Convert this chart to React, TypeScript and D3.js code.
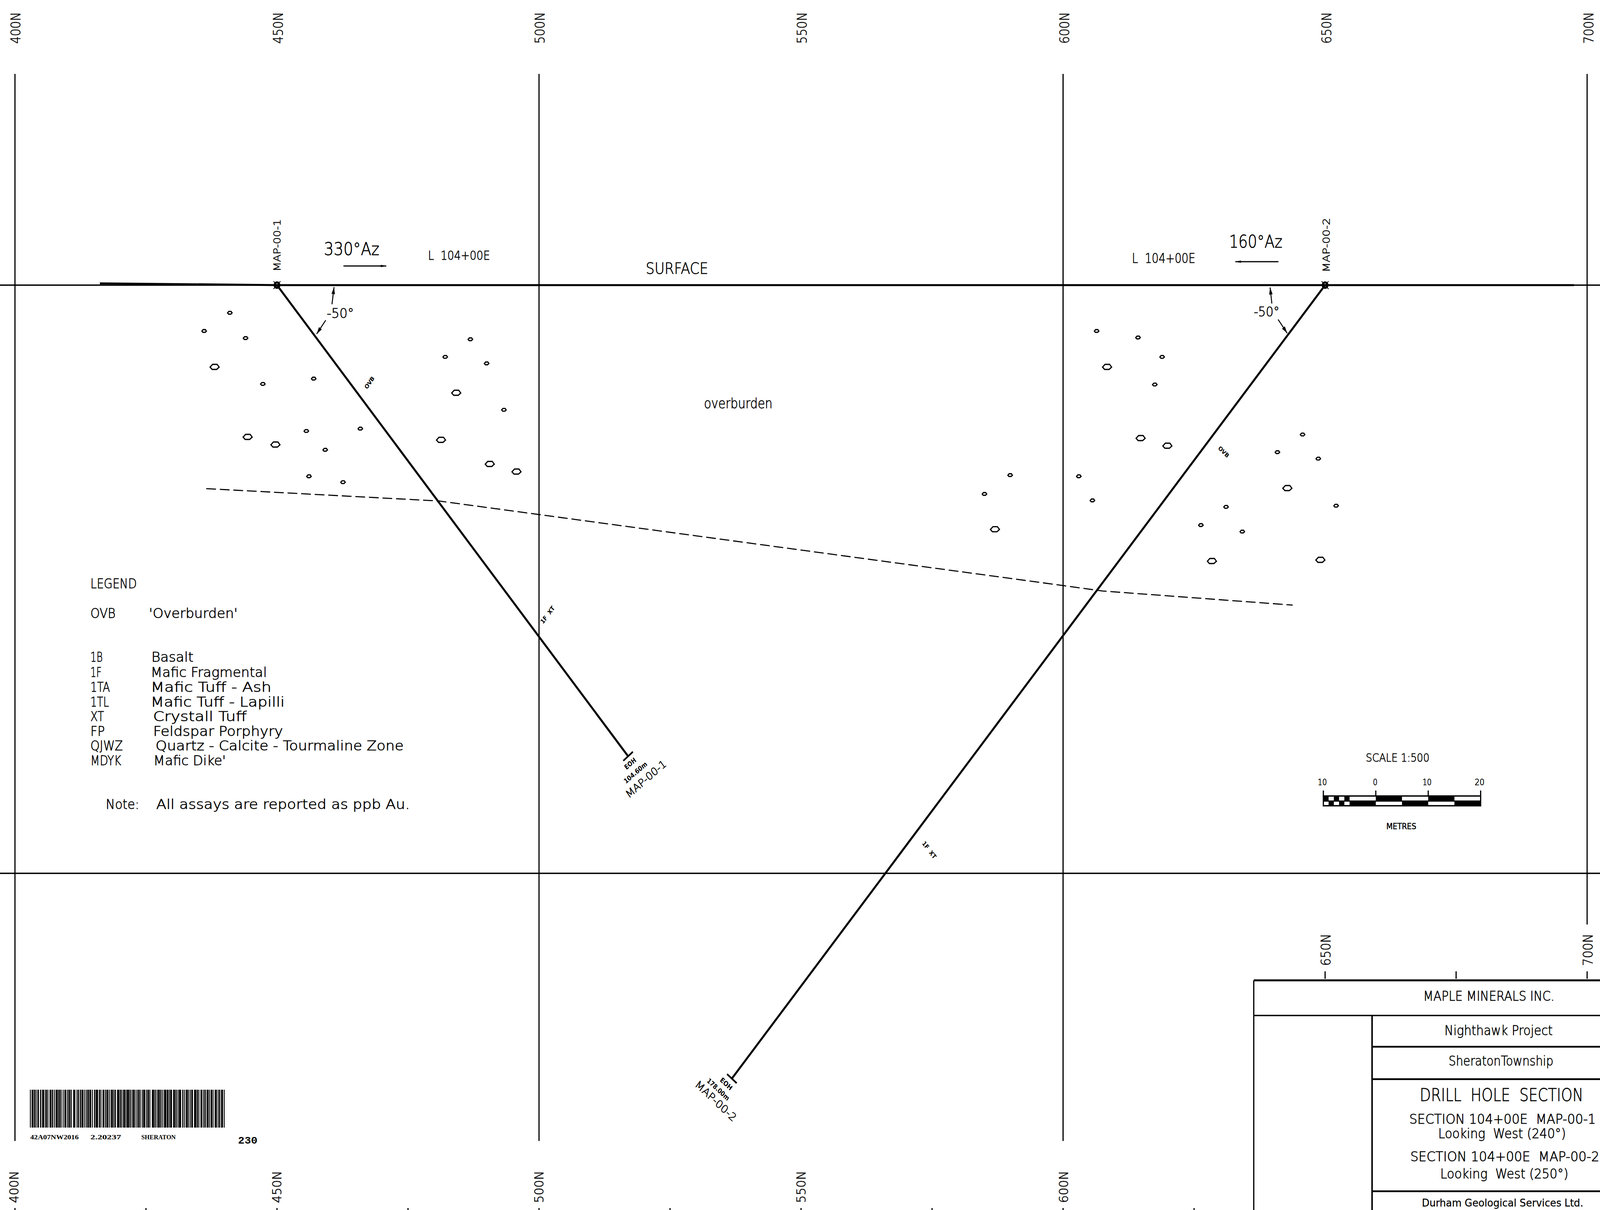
import React from "react";
import * as d3 from "d3";

// ---------- data (metres: northing, depth below surface) ----------
const northTicks = [400, 450, 500, 550, 600, 650, 700];
const gridNorths = [400, 500, 600, 700];
const gridDepths = [0, 100];
const bottomTicks = [400, 425, 450, 475, 500, 525, 550, 575, 600, 625];
const hole1Path: [number, number][] = [[450, 0], [517.0, 80.1]];
const hole2Path: [number, number][] = [[650, 0], [536.8, 134.9]];
const surfaceProfile: [number, number][] = [[416.2, -0.3], [440, -0.1], [450, 0], [697.5, 0]];
const contactLine: [number, number][] = [[436.5, 34.6], [480.9, 36.7], [600.2, 51.1], [607.5, 52.0], [643.8, 54.4]];
const clastsSmall: [number, number][] = [
  [441.0, 4.7], [436.1, 7.8], [444.0, 9.0], [447.3, 16.8], [457.0, 15.9], [486.9, 9.2], [482.1, 12.2], [490.0, 13.3],
  [493.3, 21.2], [455.6, 24.8], [465.9, 24.4], [459.2, 28.0], [456.1, 32.5], [462.6, 33.5],
  [606.4, 7.8], [614.3, 8.9], [618.9, 12.2], [617.5, 16.9], [645.7, 25.4], [640.9, 28.4], [648.7, 29.5], [652.1, 37.5],
  [631.1, 37.7], [626.3, 40.8], [634.2, 41.9], [605.6, 36.6], [603.0, 32.5], [589.9, 32.3], [585.0, 35.5],
];
const clastsLarge: [number, number][] = [
  [438.1, 13.9], [484.2, 18.3], [444.4, 25.8], [449.7, 27.1], [481.3, 26.3], [490.6, 30.4], [495.7, 31.7],
  [608.4, 13.9], [614.8, 26.0], [619.9, 27.3], [642.8, 34.5], [628.4, 46.9], [649.1, 46.7], [587.0, 41.5],
];
const legendCodes = ["1B", "1F", "1TA", "1TL", "XT", "FP", "QJWZ", "MDYK"];
const legendNames = ["Basalt", "Mafic Fragmental", "Mafic Tuff - Ash", "Mafic Tuff - Lapilli", "Crystall Tuff", "Feldspar Porphyry", "Quartz - Calcite - Tourmaline Zone", "Mafic Dike'"];
const scaleLabels = ["10", "0", "10", "20"];
const scaleTickValues = [-10, 0, 10, 20];
const scaleUpperBlack: [number, number][] = [[-10, -9], [-8, -7], [-6, -5], [0, 5], [10, 15]];
const scaleLowerBlack: [number, number][] = [[-9, -8], [-7, -6], [-5, 0], [5, 10], [15, 20]];
const barcodeWidths = [
  2,3,5,2,3,2,2,3,4,4,3,3,6,3,2,1,2,2,2,4,5,2,3,3,2,3,6,2,4,2,3,4,2,3,5,3,2,2,4,2,3,5,6,4,2,2,3,3,3,2,5,3,2,3,2,2,4,2,5,3,2,4,3,2,6,3,3,2,2,4,5,3,3,2,4,3,2,3,5,2,2,2,3,4,6,2,3,2,2,3,5,2,2,2,
  6,2,3,3,2,2,5,3,2,3,4,2,3,4,2,2,6,3,2,2,4,2,2,5,6,2,3,3,2,2,5,2,3,3,2,3,6,2,4,2,2,2,5,4,5,2,3,3,2,2,6,4,3,3,2,3,5,2,2,3,2,2,4,4,6,2,3,2,2,4,5,3,2,2,3,3,5,2,2,3,4,2,2,4,6,3,2,2,3,3,5,3,2,2,
];

// ---------- scales and layout ----------
const W = 4598, H = 3098;
const xN = d3.scaleLinear().domain([400, 700]).range([43, 4561]);
const yD = d3.scaleLinear().domain([0, 100]).range([730, 2236]);
const toLine = d3.line<[number, number]>().x(d => xN(d[0])).y(d => yD(d[1]));
const xScaleBar = d3.scaleLinear().domain([-10, 20]).range([3803, 4255]);
const INK = "#000";
const FONT = "'DejaVu Sans', 'Liberation Sans', sans-serif";

type TP = { x: number; y: number; w: number; cap: number; r?: number; a?: "start" | "middle"; f?: string; sw?: number; weight?: number; children: React.ReactNode };
function T({ x, y, w, cap, r = 0, a = "start", f = FONT, sw = 0.9, weight = 200, children }: TP) {
  return (
    <text transform={`translate(${x},${y}) rotate(${r})`} textAnchor={a} fontFamily={f} fontSize={cap / 0.73} fontWeight={weight}
      textLength={w} lengthAdjust="spacingAndGlyphs" fill={INK} stroke={sw ? INK : "none"} strokeWidth={sw} xmlSpace="preserve">{children}</text>
  );
}
function Arrow({ x1, y1, x2, y2, head = 18, width = 5, sw = 2.8 }: { x1: number; y1: number; x2: number; y2: number; head?: number; width?: number; sw?: number }) {
  const a = Math.atan2(y2 - y1, x2 - x1);
  const bx = x2 - head * Math.cos(a), by = y2 - head * Math.sin(a);
  const nx = -Math.sin(a) * width, ny = Math.cos(a) * width;
  return (
    <g>
      <line x1={x1} y1={y1} x2={x2} y2={y2} stroke={INK} strokeWidth={sw} />
      <path d={`M${x2},${y2}L${bx + nx},${by + ny}L${bx - nx},${by - ny}Z`} fill={INK} />
    </g>
  );
}
const clastShape = (rx: number, ry: number): [number, number][] => [[-rx, 0.1 * ry], [-0.45 * rx, -ry], [0.55 * rx, -ry], [rx, 0.1 * ry], [0.45 * rx, ry], [-0.55 * rx, ry]];
const clastLine = d3.line().curve(d3.curveLinearClosed);
function Clast({ p, rx, ry }: { p: [number, number]; rx: number; ry: number }) {
  return <path transform={`translate(${xN(p[0])},${yD(p[1])})`} d={clastLine(clastShape(rx, ry)) || ""} fill="#fff" stroke={INK} strokeWidth={3.2} />;
}
function HoleCap({ p, sign }: { p: [number, number]; sign: number }) {
  const cx = xN(p[0]), cy = yD(p[1]);
  const ux = Math.sin((50 * Math.PI) / 180) * 18, uy = Math.cos((50 * Math.PI) / 180) * 18;
  return <line x1={cx - ux} y1={cy - sign * -uy} x2={cx + ux} y2={cy + sign * -uy} stroke={INK} strokeWidth={4.5} />;
}
function Collar({ n }: { n: number }) {
  const cx = xN(n), cy = yD(0);
  return (
    <g stroke={INK}>
      <circle cx={cx} cy={cy} r={7} fill="none" strokeWidth={5.5} />
      <line x1={cx - 10} x2={cx + 10} y1={cy - 10} y2={cy + 10} strokeWidth={2} />
      <line x1={cx - 10} x2={cx + 10} y1={cy + 10} y2={cy - 10} strokeWidth={2} />
    </g>
  );
}

const topCenters = [44, 799, 1551, 2304, 3058, 3812, 4565];
const bottomCenters = [40, 795, 1548, 2302, 3056];
const legendBase = [1694, 1733, 1771, 1809, 1846, 1884, 1921, 1959];
const codeW = [35, 32, 56, 53, 39, 41, 93, 88];
const nameX = [435, 433, 433, 433, 440, 440, 447, 441];
const nameW = [121, 334, 347, 385, 269, 373, 713, 208];
const scaleLabelCX = [3800, 3952, 4101, 4252];
const scaleLabelW = [26, 13, 26, 28];
const GRID = 3.4;

// barcode built from cumulative widths
const barcodeCum = d3.cumsum(barcodeWidths);
const xBar = d3.scaleLinear().domain([0, barcodeCum[barcodeCum.length - 1]]).range([86, 647]);

export default function App() {
  return (
    <svg viewBox={`0 0 ${W} ${H}`} preserveAspectRatio="none" style={{ position: "fixed", left: 0, top: 0, width: "100vw", height: "100vh", display: "block", background: "#fff" }}>
      <rect width={W} height={H} fill="#fff" />
      {/* grid */}
      {gridNorths.map(n => (
        <line key={n} x1={xN(n)} x2={xN(n)} y1={yD(-35.9)} y2={n === 700 ? yD(108.7) : yD(145.5)} stroke={INK} strokeWidth={GRID} />
      ))}
      {gridDepths.map(d => <line key={d} x1={0} x2={W} y1={yD(d)} y2={yD(d)} stroke={INK} strokeWidth={GRID} />)}
      {/* surface */}
      <path d={toLine(surfaceProfile) || ""} fill="none" stroke={INK} strokeWidth={5} />
      {/* contact */}
      <path d={toLine(contactLine) || ""} fill="none" stroke={INK} strokeWidth={2.8} strokeDasharray="28 11" />
      {/* clasts */}
      {clastsSmall.map((p, i) => <Clast key={"s" + i} p={p} rx={6.5} ry={3.5} />)}
      {clastsLarge.map((p, i) => <Clast key={"l" + i} p={p} rx={13} ry={6.5} />)}
      {/* holes */}
      <path d={toLine(hole1Path) || ""} fill="none" stroke={INK} strokeWidth={5.5} />
      <path d={toLine(hole2Path) || ""} fill="none" stroke={INK} strokeWidth={5.5} />
      <HoleCap p={hole1Path[1]} sign={1} />
      <HoleCap p={hole2Path[1]} sign={-1} />
      <Collar n={450} />
      <Collar n={650} />

      {/* north labels */}
      {northTicks.map((n, i) => <T key={"t" + n} x={topCenters[i] + 14} y={112} r={-90} w={81} cap={28}>{n + "N"}</T>)}
      {northTicks.slice(0, 5).map((n, i) => <T key={"b" + n} x={bottomCenters[i] + 13} y={3080} r={-90} w={82} cap={26}>{n + "N"}</T>)}
      <T x={3823} y={2473} r={-90} w={82} cap={27}>650N</T>
      <T x={4577} y={2473} r={-90} w={82} cap={27}>700N</T>
      {bottomTicks.map(n => <line key={"bt" + n} x1={xN(n)} x2={xN(n)} y1={3093} y2={H} stroke={INK} strokeWidth={GRID} />)}
      {[650, 675, 700].map(n => <line key={"tt" + n} x1={xN(n)} x2={xN(n)} y1={2487} y2={2506} stroke={INK} strokeWidth={GRID} />)}

      {/* hole 1 annotation */}
      <T x={806} y={695} r={-90} w={134} cap={20}>MAP-00-1</T>
      <T x={931} y={653} w={159} cap={32}>330°Az</T>
      <Arrow x1={987} y1={681} x2={1110} y2={681} head={16} width={3} />
      <T x={1230} y={665} w={178} cap={23}>L  104+00E</T>
      <T x={1856} y={701} w={179} cap={29}>SURFACE</T>
      <T x={939} y={814} w={78} cap={25}>-50°</T>
      <Arrow x1={954} y1={779} x2={960} y2={735} />
      <Arrow x1={936} y1={820} x2={910} y2={855} />
      <T x={1066} y={983} r={-52} a="middle" w={36} cap={11} weight={700} sw={0}>OVB</T>
      <T x={2023} y={1045} w={197} cap={26}>overburden</T>
      <T x={1578} y={1578} r={-50} a="middle" w={53} cap={12} weight={700} sw={0}>1F  XT</T>
      <T x={1815} y={1960} r={-38} a="middle" w={37} cap={13} weight={700} sw={0}>EOH</T>
      <T x={1830} y={1983} r={-38} a="middle" w={79} cap={13} weight={700} sw={0}>104.60m</T>
      <T x={1862} y={2002} r={-38} a="middle" w={139} cap={20}>MAP-00-1</T>

      {/* hole 2 annotation */}
      <T x={3253} y={673} w={182} cap={24}>L  104+00E</T>
      <T x={3532} y={634} w={153} cap={32}>160°Az</T>
      <Arrow x1={3674} y1={670} x2={3550} y2={670} head={16} width={3} />
      <T x={3821} y={697} r={-90} w={139} cap={20}>MAP-00-2</T>
      <T x={3603} y={810} w={74} cap={24}>-50°</T>
      <Arrow x1={3655} y1={777} x2={3650} y2={736} />
      <Arrow x1={3673} y1={818} x2={3699} y2={853} />
      <T x={3513} y={1161} r={42} a="middle" w={36} cap={11} weight={700} sw={0}>OVB</T>
      <T x={2666} y={2180} r={50} a="middle" w={53} cap={12} weight={700} sw={0}>1F  XT</T>
      <T x={2083} y={2780} r={40} a="middle" w={40} cap={13} weight={700} sw={0}>EOH</T>
      <T x={2060} y={2794} r={40} a="middle" w={78} cap={13} weight={700} sw={0}>178.00m</T>
      <T x={2051} y={2826} r={40} a="middle" w={145} cap={20}>MAP-00-2</T>

      {/* legend */}
      <T x={260} y={1506} w={133} cap={24}>LEGEND</T>
      <T x={260} y={1582} w={72} cap={24}>OVB</T>
      <T x={428} y={1582} w={255} cap={24}>'Overburden'</T>
      {legendCodes.map((c, i) => <T key={c} x={260} y={legendBase[i]} w={codeW[i]} cap={24}>{c}</T>)}
      {legendNames.map((c, i) => <T key={c} x={nameX[i]} y={legendBase[i]} w={nameW[i]} cap={24}>{c}</T>)}
      <T x={304} y={2071} w={96} cap={24}>Note:</T>
      <T x={449} y={2071} w={729} cap={24}>All assays are reported as ppb Au.</T>

      {/* scale */}
      <T x={3925} y={1950} w={183} cap={21}>SCALE 1:500</T>
      {scaleLabels.map((s, i) => <T key={i} x={scaleLabelCX[i]} y={2010} a="middle" w={scaleLabelW[i]} cap={16}>{s}</T>)}
      {scaleTickValues.map(v => <line key={v} x1={xScaleBar(v)} x2={xScaleBar(v)} y1={2024} y2={2040} stroke={INK} strokeWidth={GRID} />)}
      <rect x={xScaleBar(-10)} y={2038} width={xScaleBar(20) - xScaleBar(-10)} height={25} fill="#fff" stroke={INK} strokeWidth={3.5} />
      <line x1={xScaleBar(-10)} x2={xScaleBar(20)} y1={2051} y2={2051} stroke={INK} strokeWidth={3} />
      {scaleUpperBlack.map((s, i) => <rect key={"u" + i} x={xScaleBar(s[0])} y={2038} width={xScaleBar(s[1]) - xScaleBar(s[0])} height={13} fill={INK} />)}
      {scaleLowerBlack.map((s, i) => <rect key={"lo" + i} x={xScaleBar(s[0])} y={2051} width={xScaleBar(s[1]) - xScaleBar(s[0])} height={12} fill={INK} />)}
      <T x={3984} y={2123} w={86} cap={15} weight={400} sw={0.6}>METRES</T>

      {/* barcode */}
      {barcodeWidths.map((w, i) => i % 2 === 0 ? (
        <rect key={i} x={xBar(i === 0 ? 0 : barcodeCum[i - 1])} y={2790} width={xBar(barcodeCum[i]) - xBar(i === 0 ? 0 : barcodeCum[i - 1]) + 0.6} height={97} fill={INK} />
      ) : null)}
      <T x={87} y={2917} w={139} cap={12} f="'Liberation Serif', serif" weight={700} sw={0}>42A07NW2016</T>
      <T x={260} y={2917} w={88} cap={12} f="'Liberation Serif', serif" weight={700} sw={0}>2.20237</T>
      <T x={406} y={2917} w={99} cap={12} f="'Liberation Serif', serif" weight={700} sw={0}>SHERATON</T>
      <T x={684} y={2928} w={56} cap={19} f="'Liberation Mono', monospace" weight={700} sw={0}>230</T>

      {/* title block */}
      <line x1={3603} x2={W} y1={2510} y2={2510} stroke={INK} strokeWidth={5} />
      <line x1={3603} x2={3603} y1={2510} y2={H} stroke={INK} strokeWidth={3.5} />
      <line x1={3603} x2={W} y1={2600} y2={2600} stroke={INK} strokeWidth={3.5} />
      <line x1={3943} x2={3943} y1={2600} y2={H} stroke={INK} strokeWidth={4.5} />
      {[2680, 2763, 3050].map(y => <line key={y} x1={3943} x2={W} y1={y} y2={y} stroke={INK} strokeWidth={4.5} />)}
      <T x={4090} y={2562} w={377} cap={24}>MAPLE MINERALS INC.</T>
      <T x={4151} y={2650} w={311} cap={24}>Nighthawk Project</T>
      <T x={4163} y={2728} w={301} cap={24}>SheratonTownship</T>
      <T x={4080} y={2819} w={470} cap={33}>DRILL  HOLE  SECTION</T>
      <T x={4050} y={2877} w={536} cap={24}>SECTION 104+00E  MAP-00-1</T>
      <T x={4133} y={2914} w={367} cap={24}>Looking  West (240°)</T>
      <T x={4053} y={2973} w={543} cap={24}>SECTION 104+00E  MAP-00-2</T>
      <T x={4139} y={3017} w={368} cap={24}>Looking  West (250°)</T>
      <T x={4086} y={3089} w={464} cap={20} weight={400} sw={0.3}>Durham Geological Services Ltd.</T>
    </svg>
  );
}
